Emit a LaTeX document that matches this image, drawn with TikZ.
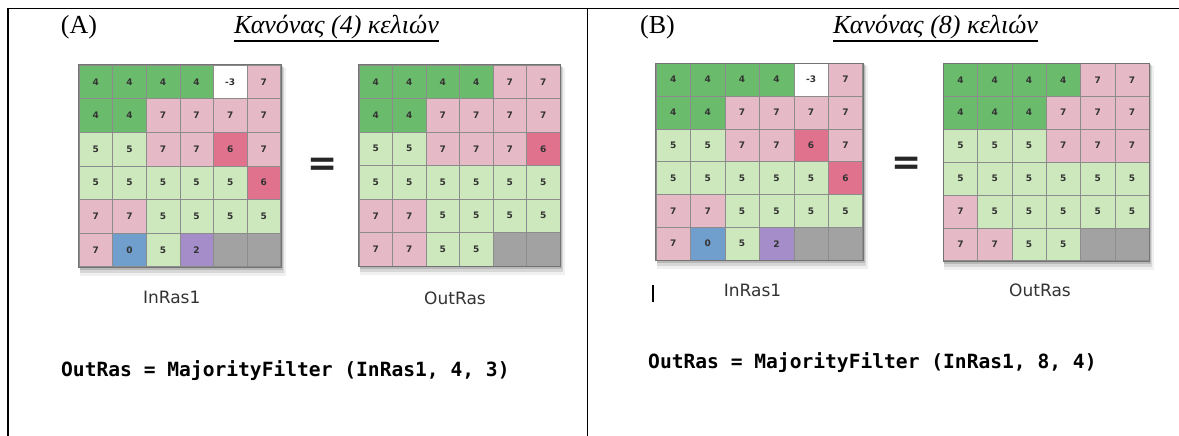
\documentclass[tikz,border=0pt]{standalone}
\usepackage{fontspec}
\setmainfont{Liberation Serif}
\newfontfamily\sansfam{DejaVu Sans}
\newfontfamily\monofam{DejaVu Sans Mono}
\definecolor{ca}{RGB}{106,188,108}
\definecolor{cg}{RGB}{204,232,188}
\definecolor{cp}{RGB}{229,185,197}
\definecolor{cr}{RGB}{224,114,142}
\definecolor{cb}{RGB}{112,158,205}
\definecolor{cv}{RGB}{164,141,201}
\definecolor{cn}{RGB}{162,162,162}
\definecolor{cw}{RGB}{255,255,255}
\tikzset{
  cell/.style={draw=black!45,line width=0.6pt,inner sep=0pt,text=black!80,
    font={\sansfam\bfseries\fontsize{9}{9}\selectfont}},
  gridlabel/.style={inner sep=0pt,text=black!80,font={\sansfam\fontsize{17}{17}\selectfont}},
  codetext/.style={inner sep=0pt,anchor=base west,font={\monofam\bfseries\fontsize{19.6}{20}\selectfont}},
  headtext/.style={inner sep=0pt,anchor=base,font={\fontsize{26}{26}\selectfont}},
  titletext/.style={inner sep=0pt,anchor=base,font={\itshape\fontsize{26}{26}\selectfont}},
  eqsign/.style={inner sep=0pt,text=black!85,font={\sansfam\bfseries\fontsize{36}{36}\selectfont}},
  frameline/.style={line width=1.5pt,black},
}
\newcommand\rastergrid[6]{%
  \fill[black,opacity=0.06] ({#2+1},{#3+3}) rectangle ({#2+6*#4+5},{#3+6*#5+9});
  \fill[black,opacity=0.10] ({#2+1},{#3+2}) rectangle ({#2+6*#4+3},{#3+6*#5+6});
  \fill[black,opacity=0.14] ({#2+1},{#3+1}) rectangle ({#2+6*#4+2},{#3+6*#5+3});
  \foreach \rowlist [count=\rowi] in {#6} {
    \foreach \kind/\txt [count=\coli] in \rowlist {
      \node[cell,fill=\kind,minimum width=#4pt,minimum height=#5pt]
        (#1-\rowi-\coli) at ({#2+(\coli-0.5)*#4},{#3+(\rowi-0.5)*#5}) {\txt};
    }
  }
  \draw[black!55,line width=0.8pt] (#1-1-1.north west) rectangle (#1-6-6.south east);
}
\begin{document}
\begin{tikzpicture}[x=1pt,y=-1pt]
\useasboundingbox (0,0) rectangle (1179,436);
\fill[white] (0,0) rectangle (1179,436);
% frame
\draw[frameline] (8,436) -- (8,8.7) -- (1179,8.7);
\draw[frameline] (587.7,8.7) -- (587.7,436);
% headers
\node[headtext] (hA) at (79,33.5) {(A)};
\node[titletext] (tA) at (336.5,33.5) {Κανόνας (4) κελιών};
\draw[line width=1.2pt] ([yshift=-7.5pt]tA.base west) -- ([yshift=-7.5pt]tA.base east);
\node[headtext] (hB) at (657.5,33.5) {(B)};
\node[titletext] (tB) at (935.6,33.5) {Κανόνας (8) κελιών};
\draw[line width=1.2pt] ([yshift=-7.5pt]tB.base west) -- ([yshift=-7.5pt]tB.base east);
% grids
\rastergrid{ai}{79}{65}{33.6}{33.6}{
 {ca/4,ca/4,ca/4,ca/4,cw/-3,cp/7},
 {ca/4,ca/4,cp/7,cp/7,cp/7,cp/7},
 {cg/5,cg/5,cp/7,cp/7,cr/6,cp/7},
 {cg/5,cg/5,cg/5,cg/5,cg/5,cr/6},
 {cp/7,cp/7,cg/5,cg/5,cg/5,cg/5},
 {cp/7,cb/0,cg/5,cv/2,cn/{},cn/{}}}
\rastergrid{ao}{359}{65}{33.5}{33.5}{
 {ca/4,ca/4,ca/4,ca/4,cp/7,cp/7},
 {ca/4,ca/4,cp/7,cp/7,cp/7,cp/7},
 {cg/5,cg/5,cp/7,cp/7,cp/7,cr/6},
 {cg/5,cg/5,cg/5,cg/5,cg/5,cg/5},
 {cp/7,cp/7,cg/5,cg/5,cg/5,cg/5},
 {cp/7,cp/7,cg/5,cg/5,cn/{},cn/{}}}
\rastergrid{bi}{656}{63.3}{34.45}{32.8}{
 {ca/4,ca/4,ca/4,ca/4,cw/-3,cp/7},
 {ca/4,ca/4,cp/7,cp/7,cp/7,cp/7},
 {cg/5,cg/5,cp/7,cp/7,cr/6,cp/7},
 {cg/5,cg/5,cg/5,cg/5,cg/5,cr/6},
 {cp/7,cp/7,cg/5,cg/5,cg/5,cg/5},
 {cp/7,cb/0,cg/5,cv/2,cn/{},cn/{}}}
\rastergrid{bo}{943.3}{63.3}{34.3}{32.9}{
 {ca/4,ca/4,ca/4,ca/4,cp/7,cp/7},
 {ca/4,ca/4,ca/4,cp/7,cp/7,cp/7},
 {cg/5,cg/5,cg/5,cp/7,cp/7,cp/7},
 {cg/5,cg/5,cg/5,cg/5,cg/5,cg/5},
 {cp/7,cg/5,cg/5,cg/5,cg/5,cg/5},
 {cp/7,cp/7,cg/5,cg/5,cn/{},cn/{}}}
% equals signs
\node[eqsign] (eqA) at (323,167) {=};
\node[eqsign] (eqB) at (906.5,166) {=};
% grid labels
\node[gridlabel] (lai) at (171.7,297.7) {InRas1};
\node[gridlabel] (lao) at (455,298) {OutRas};
\node[gridlabel] (lbi) at (752.5,290) {InRas1};
\node[gridlabel] (lbo) at (1040,290.7) {OutRas};
% cursor mark
\draw[line width=1.2pt] (653,285) -- (653,302);
% code
\node[codetext] (cA) at (61,376.5) {OutRas = MajorityFilter (InRas1, 4, 3)};
\node[codetext] (cB) at (648,368) {OutRas = MajorityFilter (InRas1, 8, 4)};
\end{tikzpicture}
\end{document}
